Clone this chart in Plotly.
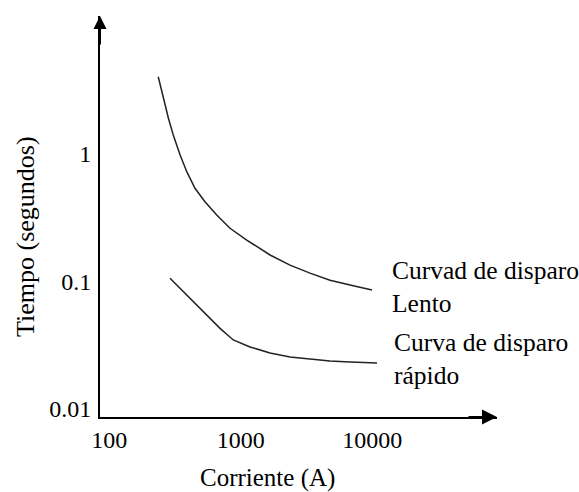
import numpy as np
import plotly.graph_objects as go

# Data (Corriente in A, Tiempo in s)
slow_x = [236, 258, 282, 307, 346, 389, 449, 535, 657, 829, 1111, 1671, 2371, 3365, 4777, 6780, 9966]
slow_y = [4.05, 2.74, 1.91, 1.41, 0.983, 0.727, 0.538, 0.422, 0.332, 0.261, 0.211, 0.161, 0.134, 0.116, 0.102, 0.0935, 0.0855]
fast_x = [290, 366, 436, 567, 696, 878, 1177, 1671, 2371, 3365, 4777, 6780, 10877]
fast_y = [0.1056, 0.0829, 0.0691, 0.0527, 0.0427, 0.0346, 0.0305, 0.0273, 0.0254, 0.0245, 0.0236, 0.0232, 0.0228]

x_ticks = [100, 1000, 10000]
x_ticktext = ["100", "1000", "10000"]
y_ticks = [0.01, 0.1, 1]
y_ticktext = ["0.01", "0.1", "1"]

x_title = "Corriente (A)"
y_title = "Tiempo (segundos)"
label_slow = "Curvad de disparo<br>Lento"
label_fast = "Curva de disparo<br>rápido"

FONT = "Liberation Serif"
W, H = 579, 492
L, R, T, B = 100, 82, 16, 75

fig = go.Figure()
fig.add_trace(go.Scatter(x=slow_x, y=slow_y, mode="lines",
                         line=dict(color="#222", width=1.5),
                         hoverinfo="skip", showlegend=False))
fig.add_trace(go.Scatter(x=fast_x, y=fast_y, mode="lines",
                         line=dict(color="#222", width=1.5),
                         hoverinfo="skip", showlegend=False))

tf = dict(family=FONT, size=24, color="black")
fig.update_layout(
    width=W, height=H,
    margin=dict(l=L, r=R, t=T, b=B, pad=0),
    paper_bgcolor="white", plot_bgcolor="white",
    font=dict(family=FONT, size=24, color="black"),
    showlegend=False,
    xaxis=dict(type="log", range=[1.930, 4.949], tickvals=x_ticks, ticktext=x_ticktext,
               showgrid=False, zeroline=False, showline=True, linecolor="black", linewidth=2,
               ticks="", ticklabelstandoff=0, fixedrange=True, tickfont=tf),
    yaxis=dict(type="log", range=[-2.0664, 1.085], tickvals=y_ticks, ticktext=y_ticktext,
               showgrid=False, zeroline=False, showline=True, linecolor="black", linewidth=2,
               ticks="", ticklabelstandoff=2, fixedrange=True, tickfont=tf),
)

# Arrow heads on the axes
fig.add_annotation(x=1, y=0, xref="paper", yref="paper", ax=-30, ay=0, axref="pixel", ayref="pixel",
                   showarrow=True, arrowhead=2, arrowsize=1.5, arrowwidth=2, arrowcolor="black", text="")
fig.add_annotation(x=0, y=1, xref="paper", yref="paper", ax=0, ay=30, axref="pixel", ayref="pixel",
                   showarrow=True, arrowhead=2, arrowsize=1.3, arrowwidth=2, arrowcolor="black", text="")

# Axis titles
fig.add_annotation(x=0.4207, y=-0.1521, xref="paper", yref="paper", text=x_title, showarrow=False,
                   xanchor="center", yanchor="middle", font=dict(family=FONT, size=25, color="black"))
fig.add_annotation(x=-0.1864, y=0.4514, xref="paper", yref="paper", text=y_title, showarrow=False,
                   textangle=-90, xanchor="center", yanchor="middle",
                   font=dict(family=FONT, size=26, color="black"))

# Curve labels
lf = dict(family=FONT, size=25.5, color="black")
fig.add_annotation(x=0.7305, y=0.323, xref="paper", yref="paper", text=label_slow, showarrow=False,
                   xanchor="left", yanchor="middle", align="left", font=lf)
fig.add_annotation(x=0.7355, y=0.1446, xref="paper", yref="paper", text=label_fast, showarrow=False,
                   xanchor="left", yanchor="middle", align="left", font=lf)

fig.write_html("out.html")
